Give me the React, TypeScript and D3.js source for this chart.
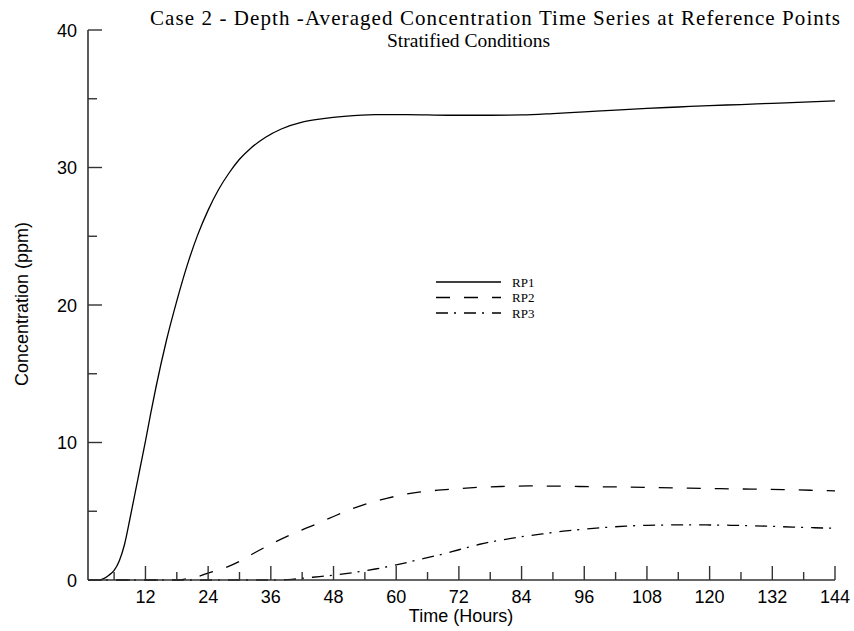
import React from "react";
import * as d3 from "d3";

const rp1Time = [1,2,3,4,5,6,7,8,9,10,11,12,13,14,16,18,20,22,24,26,28,30,32,35,38,42,46,50,56,62,70,78,84,90,96,102,108,114,120,126,132,138,144];
const rp1Conc = [0,0,0,0.1,0.35,0.7,1.4,2.6,4.4,6.3,8.2,10.1,12.1,14.0,17.4,20.3,22.9,25.1,26.9,28.4,29.6,30.6,31.35,32.2,32.8,33.3,33.55,33.72,33.85,33.85,33.8,33.8,33.82,33.92,34.05,34.18,34.3,34.4,34.5,34.58,34.67,34.75,34.85];

const rp2Time = [1,18,20,22,24,27,30,33,36,39,42,45,48,51,54,57,60,64,68,72,76,80,86,92,98,104,110,116,122,128,134,140,144];
const rp2Conc = [0,0,0.1,0.25,0.5,0.85,1.35,2.0,2.6,3.15,3.65,4.12,4.62,5.1,5.5,5.82,6.1,6.37,6.53,6.65,6.74,6.8,6.84,6.82,6.78,6.76,6.72,6.68,6.64,6.61,6.58,6.52,6.48];

const rp3Time = [1,36,40,44,48,52,56,60,64,68,72,76,80,84,88,92,96,100,104,108,112,116,120,124,128,132,136,140,144];
const rp3Conc = [0,0,0.05,0.2,0.35,0.55,0.8,1.1,1.45,1.8,2.2,2.6,2.9,3.15,3.35,3.55,3.7,3.82,3.92,3.98,4.0,4.01,4.0,3.98,3.95,3.9,3.85,3.8,3.76];

const seriesNames = ["RP1", "RP2", "RP3"];
const xMajorTicks = [12,24,36,48,60,72,84,96,108,120,132,144];
const xMinorTicks = [6,18,30,42,54,66,78,90,102,114,126,138];
const yMajorTicks = [0,10,20,30,40];
const yMinorTicks = [5,15,25,35];

const titleLine1 = "Case 2 - Depth -Averaged Concentration Time Series at Reference Points";
const titleLine2 = "Stratified Conditions";
const xTitle = "Time (Hours)";
const yTitle = "Concentration (ppm)";

const W = 854, H = 631;
const x = d3.scaleLinear().domain([1, 144]).range([88, 835]);
const y = d3.scaleLinear().domain([0, 40]).range([580, 30]);

const dashes = ["none", "14 14", "12 6 2 8"];

export default function App() {
  const line = d3.line<[number, number]>().x(d => x(d[0])).y(d => y(d[1])).curve(d3.curveMonotoneX);
  const series = [
    rp1Time.map((t, i) => [t, rp1Conc[i]] as [number, number]),
    rp2Time.map((t, i) => [t, rp2Conc[i]] as [number, number]),
    rp3Time.map((t, i) => [t, rp3Conc[i]] as [number, number]),
  ];
  const sans = "'Liberation Sans', Arial, sans-serif";
  const serif = "'Liberation Serif', 'Times New Roman', serif";
  const axisColor = "#333";
  return (
    <svg width={W} height={H} style={{ position: "absolute", left: 0, top: 0, background: "#fff" }}>
      <rect x={0} y={0} width={W} height={H} fill="#fff" />
      {series.map((s, i) => (
        <path key={i} d={line(s) || ""} fill="none" stroke="#000" strokeWidth={1.3}
          strokeDasharray={dashes[i] === "none" ? undefined : dashes[i]} />
      ))}
      {/* axes */}
      <line x1={x(1)} x2={x(1)} y1={y(40)} y2={y(0)} stroke={axisColor} strokeWidth={1.6} />
      <line x1={x(1)} x2={x(144)} y1={y(0)} y2={y(0)} stroke={axisColor} strokeWidth={1.6} />
      {xMajorTicks.map(t => (
        <g key={"xm" + t}>
          <line x1={x(t)} x2={x(t)} y1={y(0)} y2={y(0) - 14} stroke={axisColor} strokeWidth={1.4} />
          <text x={x(t)} y={603} textAnchor="middle" fontFamily={sans} fontSize={18} fill="#000">{t}</text>
        </g>
      ))}
      {xMinorTicks.map(t => (
        <line key={"xn" + t} x1={x(t)} x2={x(t)} y1={y(0)} y2={y(0) - 8} stroke={axisColor} strokeWidth={1.4} />
      ))}
      {yMajorTicks.map(v => (
        <g key={"ym" + v}>
          <line x1={x(1)} x2={x(1) + 14} y1={y(v)} y2={y(v)} stroke={axisColor} strokeWidth={1.4} />
          <text x={77} y={y(v) + 6.5} textAnchor="end" fontFamily={sans} fontSize={18} fill="#000">{v}</text>
        </g>
      ))}
      {yMinorTicks.map(v => (
        <line key={"yn" + v} x1={x(1)} x2={x(1) + 9} y1={y(v)} y2={y(v)} stroke={axisColor} strokeWidth={1.4} />
      ))}
      {/* axis titles */}
      <text x={461} y={622} textAnchor="middle" fontFamily={sans} fontSize={18} fill="#000">{xTitle}</text>
      <text transform={`translate(28, 304) rotate(-90)`} textAnchor="middle" fontFamily={sans} fontSize={18} fill="#000">{yTitle}</text>
      {/* title */}
      <text x={150} y={25} fontFamily={serif} fontSize={21} fill="#000" textLength={690} lengthAdjust="spacing">{titleLine1}</text>
      <text x={387} y={47} fontFamily={serif} fontSize={19.5} fill="#000">{titleLine2}</text>
      {/* legend */}
      {seriesNames.map((n, i) => (
        <g key={n}>
          <line x1={436} x2={501} y1={282 + i * 15.5} y2={282 + i * 15.5} stroke="#000" strokeWidth={1.3}
            strokeDasharray={dashes[i] === "none" ? undefined : dashes[i]} />
          <text x={512} y={282 + i * 15.5 + 4.5} fontFamily={serif} fontSize={13} fill="#000">{n}</text>
        </g>
      ))}
    </svg>
  );
}
